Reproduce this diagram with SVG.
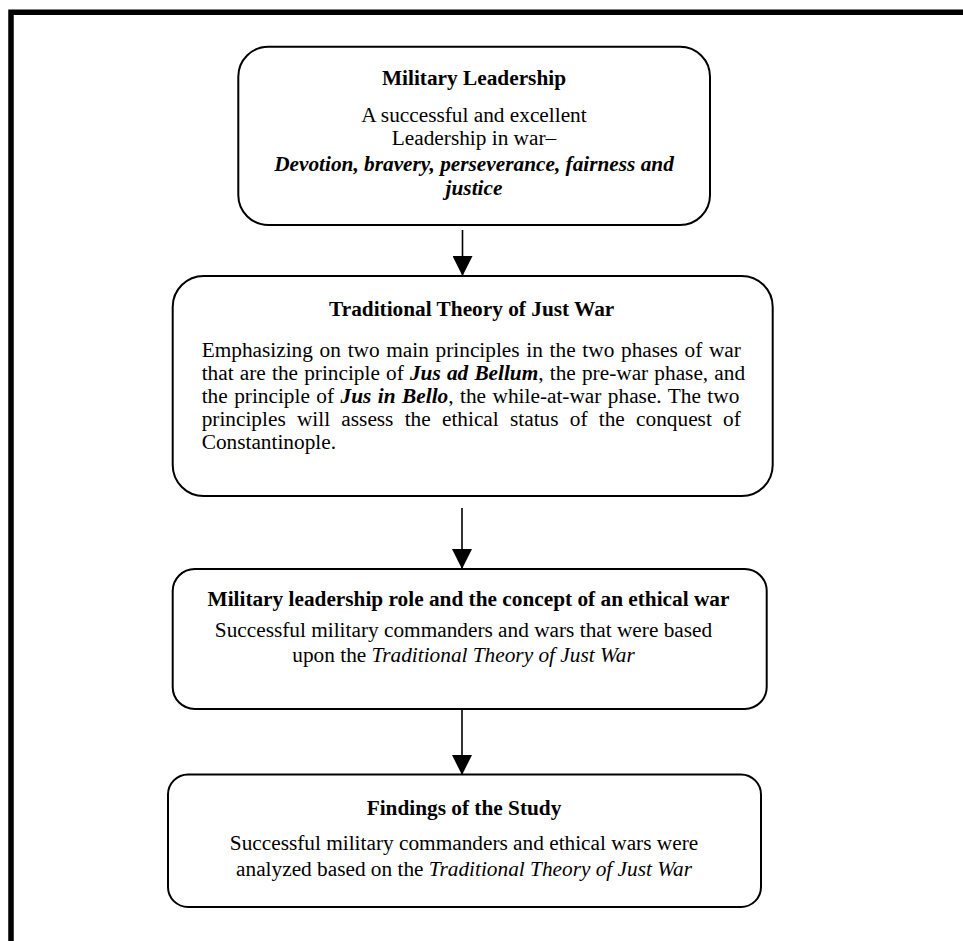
<svg xmlns="http://www.w3.org/2000/svg" width="963" height="941" viewBox="0 0 963 941">
<style>
text{font-family:"Liberation Serif","Times New Roman",serif;font-size:21.3px;fill:#000}
.t{font-weight:bold;text-anchor:middle}
.c{text-anchor:middle}
.b{font-weight:bold}
.bi{font-weight:bold;font-style:italic}
.i{font-style:italic}
.box{fill:#fff;stroke:#000;stroke-width:2}
.conn{stroke:#000;stroke-width:1.6;fill:none}
</style>
<defs>
<marker id="ah" markerUnits="userSpaceOnUse" markerWidth="21" markerHeight="20" refX="20" refY="10" orient="auto">
<path d="M0,0 L20,10 L0,20 Z" fill="#000"/>
</marker>
</defs>
<rect width="963" height="941" fill="#fff"/>
<path d="M11,941 V12.3 H963" fill="none" stroke="#000" stroke-width="5.5"/>

<g id="connectors">
<line class="conn" x1="462.5" y1="230" x2="462.5" y2="276" marker-end="url(#ah)"/>
<line class="conn" x1="462" y1="508" x2="462" y2="569" marker-end="url(#ah)"/>
<line class="conn" x1="462" y1="709" x2="462" y2="775" marker-end="url(#ah)"/>
</g>

<g id="node-military-leadership">
<rect class="box" x="238.3" y="46.7" width="471.7" height="178.3" rx="30"/>
<text class="t" x="474" y="85">Military Leadership</text>
<text class="c" x="474" y="121.7">A successful and excellent</text>
<text class="c" x="474" y="145">Leadership in war–</text>
<text class="c bi" x="474" y="170.7">Devotion, bravery, perseverance, fairness and</text>
<text class="c bi" x="474" y="195">justice</text>
</g>

<g id="node-traditional-theory">
<rect class="box" x="172.7" y="276" width="600" height="220" rx="31"/>
<text class="t" x="471.7" y="316">Traditional Theory of Just War</text>
<text x="201.7" y="356.7" word-spacing="1.4">Emphasizing on two main principles in the two phases of war</text>
<text x="201.7" y="379.5" word-spacing="0.85">that are the principle of <tspan class="bi">Jus ad Bellum</tspan>, the pre-war phase, and</text>
<text x="201.7" y="402.7" word-spacing="1.16">the principle of <tspan class="bi">Jus in Bello</tspan>, the while-at-war phase. The two</text>
<text x="201.7" y="426" word-spacing="5.95">principles will assess the ethical status of the conquest of</text>
<text x="201.7" y="448.5">Constantinople.</text>
</g>

<g id="node-leadership-role">
<rect class="box" x="172.7" y="569" width="594" height="140" rx="22"/>
<text class="t" x="468.5" y="606">Military leadership role and the concept of an ethical war</text>
<text class="c" x="463.5" y="637">Successful military commanders and wars that were based</text>
<text class="c" x="463.5" y="662">upon the <tspan class="i">Traditional Theory of Just War</tspan></text>
</g>

<g id="node-findings">
<rect class="box" x="168" y="774.5" width="593" height="132.5" rx="20"/>
<text class="t" x="464" y="815">Findings of the Study</text>
<text class="c" x="464" y="849.5">Successful military commanders and ethical wars were</text>
<text class="c" x="464" y="875.5">analyzed based on the <tspan class="i">Traditional Theory of Just War</tspan></text>
</g>
</svg>
